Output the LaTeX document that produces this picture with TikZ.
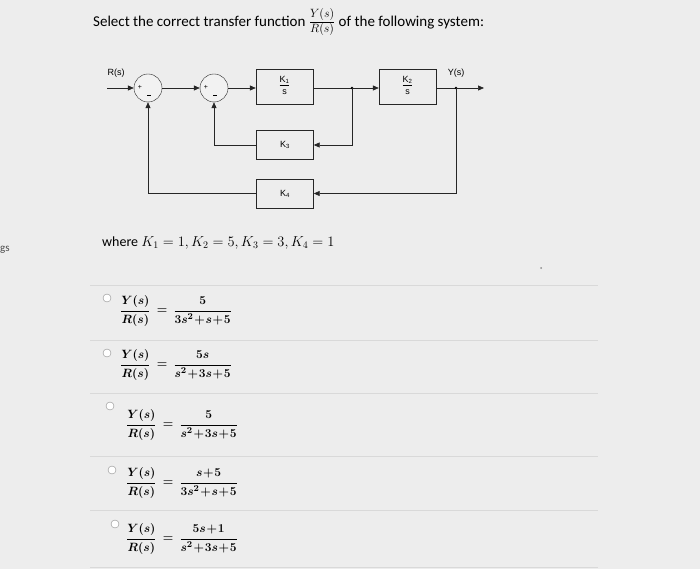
\documentclass[tikz,border=0pt]{standalone}
\usepackage{amsmath}
\usepackage[no-math]{fontspec}
\setmainfont{Carlito}
\setsansfont{Liberation Sans}
\usetikzlibrary{arrows.meta}
\begin{document}
\begin{tikzpicture}[x=1pt,y=-1pt,
  blk/.style={draw=black!85,fill=black!7,minimum width=57pt,minimum height=35pt,inner sep=0pt,font=\sffamily\fontsize{9}{10}\selectfont},
  sumj/.style={circle,draw=black!85,fill=black!5,minimum size=28pt,inner sep=0pt},
  sig/.style={draw=black!85,line width=0.7pt,-{Triangle[length=6pt,width=5pt]}},
  ln/.style={draw=black!85,line width=0.7pt},
  sep/.style={draw=black!15,line width=0.8pt},
  radio/.style={circle,draw=black!45,fill=white,minimum size=8pt,inner sep=0pt},
  lbl/.style={font=\sffamily\fontsize{9}{10}\selectfont,inner sep=0pt}]
\fill[black!7] (0,0) rectangle (700,569);
\useasboundingbox (0,0) rectangle (700,569);
% title
\node[anchor=west,inner sep=0pt,font=\fontsize{15}{17}\selectfont] (title) at (93,22)
  {Select the correct transfer function {\fontsize{17}{19}\selectfont$\frac{Y(s)}{R(s)}$} of the following system:};
% diagram
\coordinate (rin) at (107,88);
\node[lbl] (rl) at (116,73) {R(s)};
\node[sumj] (s1) at (148,88) {};
\node[sumj] (s2) at (214,88) {};
\node[lbl,font=\sffamily\fontsize{7}{7}\selectfont] (p1) at (140,87) {+};
\node[lbl] (m1) at (149,95) {\rule{4pt}{0.8pt}};
\node[lbl,font=\sffamily\fontsize{7}{7}\selectfont] (p2) at (206,87) {+};
\node[lbl] (m2) at (215,95) {\rule{4pt}{0.8pt}};
\node[blk] (k1) at (284.5,86.5) {\begin{tabular}{c}\underline{K\textsubscript{1}}\\[2pt] s\end{tabular}};
\node[blk] (k2) at (407.5,86.5) {\begin{tabular}{c}\underline{K\textsubscript{2}}\\[2pt] s\end{tabular}};
\node[blk,minimum height=29pt] (k3) at (285,145) {K\textsubscript{3}};
\node[blk,minimum height=29pt] (k4) at (285,193.5) {K\textsubscript{4}};
\coordinate (b1) at (352,88);
\coordinate (b2) at (456,88);
\coordinate (yout) at (484,88);
\node[lbl] (yl) at (456,73) {Y(s)};
\draw[sig] (rin) -- (s1);
\draw[sig] (s1) -- (s2);
\draw[sig] (s2) -- (k1.west|-s2);
\draw[ln] (k1.east|-b1) -- (b1);
\draw[sig] (b1) -- (k2.west|-b1);
\draw[ln] (k2.east|-b2) -- (b2);
\draw[sig] (b2) -- (yout);
\fill (b1) circle (1.3pt) (b2) circle (1.3pt);
\draw[sig] (b1) |- (k3.east);
\draw[sig] (k3.west) -| (s2.south);
\draw[sig] (b2) |- (k4.east);
\draw[sig] (k4.west) -| (s1.south);
% where
\node[anchor=west,inner sep=0pt,font=\fontsize{14}{16}\selectfont] (wh) at (102,243)
  {where $K_1=1, K_2=5, K_3=3, K_4=1$};
\node[anchor=west,inner sep=0pt,font=\fontsize{11}{12}\selectfont,text=black!70] (gs) at (0,250) {gs};
\fill[black!45] (541,268) circle (1pt);
% separators
\foreach \yy in {285,340,393,456,510,567} \draw[sep] (90,\yy) -- (598,\yy);
% options
\tikzset{opt/.style={inner sep=0pt,font=\fontsize{13}{15}\selectfont\boldmath}}
\node[radio] (r1) at (107,298) {};
\node[opt,anchor=west] (f1) at (120,311) {$\dfrac{Y(s)}{R(s)}\,=\,\dfrac{5}{3s^2\!+\!s\!+\!5}$};
\node[radio] (r2) at (107,353) {};
\node[opt,anchor=west] (f2) at (120,365) {$\dfrac{Y(s)}{R(s)}\,=\,\dfrac{5s}{s^2\!+\!3s\!+\!5}$};
\node[radio] (r3) at (110,406) {};
\node[opt,anchor=west] (f3) at (126,425) {$\dfrac{Y(s)}{R(s)}\,=\,\dfrac{5}{s^2\!+\!3s\!+\!5}$};
\node[radio] (r4) at (112,470) {};
\node[opt,anchor=west] (f4) at (126,483) {$\dfrac{Y(s)}{R(s)}\,=\,\dfrac{s\!+\!5}{3s^2\!+\!s\!+\!5}$};
\node[radio] (r5) at (115,524) {};
\node[opt,anchor=west] (f5) at (126,539) {$\dfrac{Y(s)}{R(s)}\,=\,\dfrac{5s\!+\!1}{s^2\!+\!3s\!+\!5}$};
\end{tikzpicture}
\end{document}
